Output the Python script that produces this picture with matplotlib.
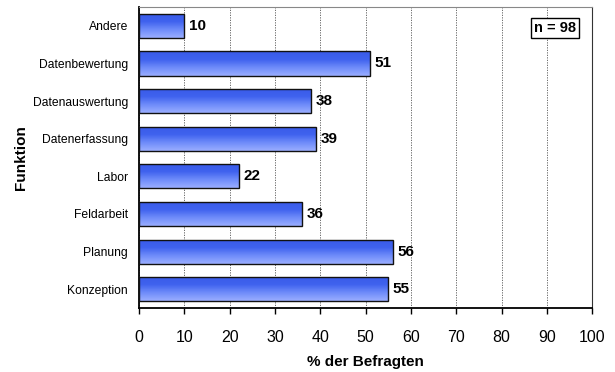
import numpy as np
import matplotlib.pyplot as plt
from matplotlib.colors import LinearSegmentedColormap

plt.rcParams['font.family'] = ['Liberation Sans', 'DejaVu Sans']

categories = ["Konzeption", "Planung", "Feldarbeit", "Labor",
              "Datenerfassung", "Datenauswertung", "Datenbewertung", "Andere"]
values = [55, 56, 36, 22, 39, 38, 51, 10]
labels = ["55", "56", "36", "22", "39", "38", "51", "10"]
xticks = [0, 10, 20, 30, 40, 50, 60, 70, 80, 90, 100]

fig = plt.figure(figsize=(6.15, 3.72), dpi=100)
ax = fig.add_axes([0.226, 0.172, 0.737, 0.809])

ypos = np.arange(len(categories))
bars = ax.barh(ypos, values, height=0.64, color='none',
               edgecolor='#111111', linewidth=1.0, zorder=3)

cmap = LinearSegmentedColormap.from_list(
    "bluegrad", ["#9aaeff", "#6f8cfa", "#3f62ee", "#3a5ae8"])
grad = np.linspace(0, 1, 64).reshape(-1, 1)
for b in bars:
    x0, y0 = b.get_x(), b.get_y()
    w, h = b.get_width(), b.get_height()
    im = ax.imshow(grad, cmap=cmap, aspect='auto', origin='lower',
                   extent=[x0, x0 + w, y0, y0 + h], zorder=2)
    im.set_clip_path(b)

for y, v, t in zip(ypos, values, labels):
    ax.text(v + 1, y, t, va='center', ha='left', fontsize=11,
            fontweight='bold', zorder=4)

ax.set_xlim(0, 100)
ax.set_ylim(-0.5, len(categories) - 0.5)
ax.set_xticks(xticks)
ax.set_xticklabels([str(x) for x in xticks], fontsize=11.5)
ax.set_yticks(ypos)
ax.set_yticklabels(categories, fontsize=8.7)
ax.tick_params(axis='y', length=0, pad=8)
ax.tick_params(axis='x', length=4, direction='out', width=1, pad=12)

ax.xaxis.grid(True, linestyle=(0, (1.5, 1.5)), color='#555555',
              linewidth=0.6, zorder=1)
ax.set_axisbelow(True)

for s in ['left', 'bottom']:
    ax.spines[s].set_linewidth(1.3)
    ax.spines[s].set_color('black')
ax.spines['top'].set_color('#888888')
ax.spines['top'].set_linewidth(0.8)
ax.spines['right'].set_color('#333333')
ax.spines['right'].set_linewidth(0.8)

ax.set_xlabel("% der Befragten", fontsize=11, fontweight='bold', labelpad=7)
ax.set_ylabel("Funktion", fontsize=11, fontweight='bold')
ax.yaxis.set_label_coords(-0.245, 0.5)

ax.text(0.965, 0.93, "n = 98", transform=ax.transAxes, ha='right',
        va='center', fontsize=10.5, fontweight='bold',
        bbox=dict(boxstyle='square,pad=0.2', facecolor='white',
                  edgecolor='black', linewidth=1.0), zorder=5)

fig.savefig("out.png", dpi=100)
